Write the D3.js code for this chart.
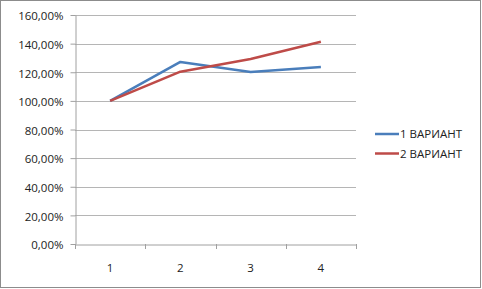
<!DOCTYPE html>
<html><head><meta charset="utf-8">
<script src="https://cdn.jsdelivr.net/npm/d3@7"></script>
<style>body{margin:0;background:#fff}svg{display:block}</style>
</head><body>
<svg id="c" width="482" height="289"></svg>
<script>
const categories = ["1", "2", "3", "4"];
const series1 = [1.00, 1.272, 1.202, 1.237];
const series2 = [1.00, 1.204, 1.293, 1.413];
const seriesNames = ["1 ВАРИАНТ", "2 ВАРИАНТ"];
const yTicks = [0, 0.2, 0.4, 0.6, 0.8, 1.0, 1.2, 1.4, 1.6];

const svg = d3.select("#c");
const font = "'Open Sans', Arial, sans-serif";
svg.append("rect").attr("x",0.5).attr("y",0.5).attr("width",480).attr("height",287)
  .attr("fill","#fff").attr("stroke","#8c8c8c");

const L = 75, R = 356, T = 15, B = 244;
const x = d3.scaleBand().domain(categories).range([L, R]);
const y = d3.scaleLinear().domain([0, 1.6]).range([B, T]);
const fmt = v => d3.format(".2f")(v*100).replace(".", ",") + "%";

// gridlines
svg.append("g").selectAll("line").data(yTicks.filter(d=>d>0)).join("line")
  .attr("x1", L).attr("x2", R).attr("y1", d=>Math.round(y(d))+0.5).attr("y2", d=>Math.round(y(d))+0.5)
  .attr("stroke", "#b5b5b5");

const yAxis = svg.append("g").attr("transform", `translate(${L+0.5},0)`)
  .call(d3.axisLeft(y).tickValues(yTicks).tickFormat(fmt).tickSize(5).tickSizeOuter(0));
yAxis.select(".domain").attr("stroke","#a0a0a0");
yAxis.selectAll(".tick line").attr("stroke","#a0a0a0");
yAxis.selectAll("text").attr("font-family",font).attr("font-size","11.5px").attr("fill","#222")
  .attr("dx","-4").attr("dy","0.42em");

const xAxis = svg.append("g").attr("transform", `translate(0,${B+0.5})`)
  .call(d3.axisBottom(x).tickSize(0));
xAxis.select(".domain").attr("stroke","#a0a0a0");
xAxis.selectAll("text").attr("font-family",font).attr("font-size","11.5px").attr("fill","#222")
  .attr("y", 27).attr("dy", null);
// tick marks at band boundaries
const bounds = categories.map(c => x(c)).concat([R]);
svg.append("g").selectAll("line").data(bounds).join("line")
  .attr("x1", d=>Math.round(d)+0.5).attr("x2", d=>Math.round(d)+0.5)
  .attr("y1", B).attr("y2", B+5).attr("stroke","#a0a0a0");

const line = d3.line().x((d,i)=>x(categories[i]) + x.bandwidth()/2).y(d=>y(d));
const colors = ["#4a7ebb", "#be4b48"];
[series1, series2].forEach((s,i)=>{
  svg.append("path").datum(s).attr("d", line).attr("fill","none")
    .attr("stroke", colors[i]).attr("stroke-width", 2.5).attr("stroke-linejoin","round");
});

// legend
const lg = svg.append("g");
seriesNames.forEach((n,i)=>{
  const yy = 134 + i*19.5;
  lg.append("line").attr("x1",375).attr("x2",399).attr("y1",yy).attr("y2",yy)
    .attr("stroke",colors[i]).attr("stroke-width",2.5);
  lg.append("text").attr("x",400).attr("y",yy).attr("dy","0.36em")
    .attr("font-family",font).attr("font-size","11.5px").attr("fill","#222").text(n);
});
</script>
</body></html>
